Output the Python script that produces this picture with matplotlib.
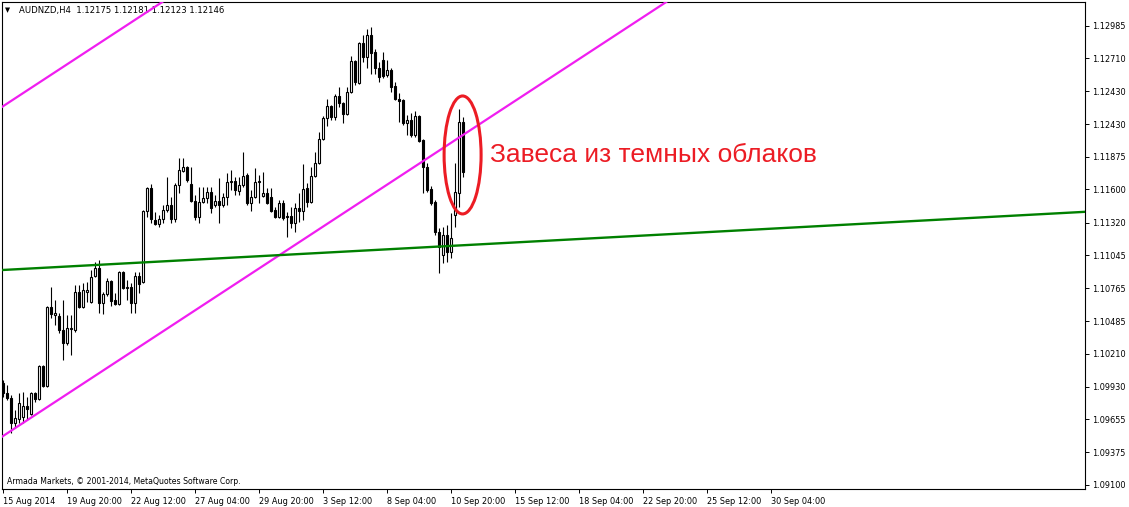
import matplotlib
matplotlib.use('Agg')
import matplotlib.pyplot as plt
from matplotlib.patches import Ellipse

# AUDNZD H4 candles, one per bar
opens = [1.09963, 1.09879, 1.09836, 1.09625, 1.09658, 1.09675, 1.09768, 1.09700, 1.09879, 1.09828,
         1.10106, 1.09937, 1.10606, 1.10538, 1.10529, 1.10411, 1.10302, 1.10420, 1.10411, 1.10733,
         1.10606, 1.10733, 1.10648, 1.10868, 1.10935, 1.10640, 1.10716, 1.10826, 1.10665, 1.10631,
         1.10902, 1.10767, 1.10775, 1.10640, 1.10868, 1.10817, 1.11418, 1.11612, 1.11342, 1.11308,
         1.11351, 1.11426, 1.11469, 1.11351, 1.11638, 1.11756, 1.11790, 1.11646, 1.11503, 1.11367,
         1.11494, 1.11528, 1.11579, 1.11469, 1.11503, 1.11469, 1.11537, 1.11663, 1.11672, 1.11587,
         1.11638, 1.11723, 1.11486, 1.11537, 1.11663, 1.11545, 1.11571, 1.11537, 1.11426, 1.11367,
         1.11486, 1.11376, 1.11376, 1.11317, 1.11443, 1.11418, 1.11612, 1.11494, 1.11714, 1.11824,
         1.12027, 1.12205, 1.12306, 1.12213, 1.12391, 1.12332, 1.12239, 1.12425, 1.12687, 1.12501,
         1.12839, 1.12720, 1.12907, 1.12763, 1.12628, 1.12695, 1.12568, 1.12611, 1.12475, 1.12365,
         1.12357, 1.12162, 1.12188, 1.12061, 1.12221, 1.12019, 1.11790, 1.11604, 1.11494, 1.11240,
         1.11046, 1.11215, 1.11071, 1.11384, 1.11571, 1.12171]
highs = [1.09988, 1.09946, 1.09862, 1.09734, 1.09879, 1.09887, 1.09845, 1.09887, 1.09887, 1.10115,
         1.10115, 1.10614, 1.10775, 1.10665, 1.10555, 1.10665, 1.10538, 1.10538, 1.10792, 1.10792,
         1.10809, 1.10817, 1.10919, 1.10986, 1.11003, 1.10733, 1.10851, 1.10834, 1.10725, 1.10910,
         1.10910, 1.10834, 1.10809, 1.10902, 1.10902, 1.11426, 1.11621, 1.11646, 1.11409, 1.11384,
         1.11469, 1.11706, 1.11537, 1.11655, 1.11866, 1.11866, 1.11799, 1.11790, 1.11554, 1.11621,
         1.11621, 1.11621, 1.11621, 1.11554, 1.11697, 1.11571, 1.11740, 1.11765, 1.11706, 1.11706,
         1.11917, 1.11740, 1.11596, 1.11782, 1.11723, 1.11748, 1.11612, 1.11612, 1.11452, 1.11511,
         1.11511, 1.11409, 1.11452, 1.11486, 1.11571, 1.11816, 1.11655, 1.11790, 1.11917, 1.12086,
         1.12221, 1.12365, 1.12315, 1.12408, 1.12467, 1.12340, 1.12467, 1.12729, 1.12695, 1.12848,
         1.12907, 1.12958, 1.12975, 1.12788, 1.12678, 1.12763, 1.12695, 1.12628, 1.12509, 1.12416,
         1.12365, 1.12230, 1.12247, 1.12264, 1.12230, 1.12027, 1.11824, 1.11630, 1.11511, 1.11274,
         1.11283, 1.11300, 1.11401, 1.11824, 1.12281, 1.12213]
lows = [1.09845, 1.09819, 1.09540, 1.09582, 1.09625, 1.09625, 1.09650, 1.09692, 1.09802, 1.09819,
        1.09929, 1.09929, 1.10512, 1.10454, 1.10386, 1.10157, 1.10285, 1.10200, 1.10394, 1.10597,
        1.10597, 1.10648, 1.10640, 1.10860, 1.10555, 1.10546, 1.10700, 1.10614, 1.10623, 1.10623,
        1.10758, 1.10665, 1.10555, 1.10555, 1.10725, 1.10809, 1.11367, 1.11317, 1.11300, 1.11283,
        1.11317, 1.11409, 1.11317, 1.11325, 1.11571, 1.11748, 1.11663, 1.11494, 1.11342, 1.11317,
        1.11486, 1.11486, 1.11401, 1.11452, 1.11317, 1.11452, 1.11469, 1.11596, 1.11554, 1.11554,
        1.11621, 1.11469, 1.11418, 1.11528, 1.11486, 1.11537, 1.11477, 1.11409, 1.11359, 1.11359,
        1.11342, 1.11198, 1.11274, 1.11240, 1.11325, 1.11342, 1.11452, 1.11486, 1.11706, 1.11816,
        1.12019, 1.12137, 1.12188, 1.12188, 1.12298, 1.12162, 1.12230, 1.12416, 1.12484, 1.12492,
        1.12678, 1.12628, 1.12577, 1.12577, 1.12509, 1.12543, 1.12552, 1.12425, 1.12357, 1.12171,
        1.12145, 1.12061, 1.12044, 1.12044, 1.12002, 1.11571, 1.11579, 1.11469, 1.11215, 1.10893,
        1.10978, 1.10986, 1.11020, 1.11283, 1.11452, 1.11706]
closes = [1.09879, 1.09836, 1.09625, 1.09666, 1.09794, 1.09768, 1.09743, 1.09879, 1.09828, 1.10106,
          1.09937, 1.10606, 1.10546, 1.10555, 1.10411, 1.10302, 1.10428, 1.10428, 1.10733, 1.10606,
          1.10750, 1.10750, 1.10860, 1.10935, 1.10640, 1.10716, 1.10826, 1.10657, 1.10631, 1.10902,
          1.10767, 1.10775, 1.10640, 1.10868, 1.10800, 1.11418, 1.11612, 1.11351, 1.11308, 1.11351,
          1.11426, 1.11469, 1.11351, 1.11638, 1.11765, 1.11790, 1.11680, 1.11503, 1.11367, 1.11494,
          1.11528, 1.11579, 1.11443, 1.11503, 1.11469, 1.11537, 1.11663, 1.11672, 1.11596, 1.11638,
          1.11714, 1.11486, 1.11537, 1.11663, 1.11672, 1.11571, 1.11486, 1.11418, 1.11367, 1.11486,
          1.11359, 1.11367, 1.11317, 1.11443, 1.11418, 1.11604, 1.11494, 1.11714, 1.11824, 1.12027,
          1.12205, 1.12306, 1.12213, 1.12391, 1.12332, 1.12239, 1.12425, 1.12687, 1.12509, 1.12839,
          1.12720, 1.12907, 1.12755, 1.12628, 1.12552, 1.12560, 1.12611, 1.12467, 1.12365, 1.12348,
          1.12162, 1.12188, 1.12061, 1.12221, 1.12010, 1.11790, 1.11596, 1.11486, 1.11240, 1.11113,
          1.11215, 1.11071, 1.11190, 1.11579, 1.12171, 1.11748]

# time axis: one label every 16 bars
date_labels = ['15 Aug 2014', '19 Aug 20:00', '22 Aug 12:00', '27 Aug 04:00', '29 Aug 20:00',
               '3 Sep 12:00', '8 Sep 04:00', '10 Sep 20:00', '15 Sep 12:00', '18 Sep 04:00',
               '22 Sep 20:00', '25 Sep 12:00', '30 Sep 04:00']
bars_per_label = 16

price_ticks = [1.12985, 1.12710, 1.12430, 1.12150, 1.11875, 1.11600, 1.11320, 1.11045,
               1.10765, 1.10485, 1.10210, 1.09930, 1.09655, 1.09375, 1.09100]
price_labels = ['1.12985', '1.12710', '1.12430', '1.12430', '1.11875', '1.11600', '1.11320', '1.11045',
                '1.10765', '1.10485', '1.10210', '1.09930', '1.09655', '1.09375', '1.09100']

# trend lines: two anchor points (bar, price) each
channel_low = [(0, 1.09514), (115, 1.12061)]
channel_high = [(0, 1.12304), (40, 1.13190)]
support = [(0, 1.10919), (270, 1.11410)]

# marked pattern
pattern_center = (114.9, 1.11892)
pattern_size = (9.25, 0.00998)
pattern_text = 'Завеса из темных облаков'
header = 'AUDNZD,H4  1.12175 1.12181 1.12123 1.12146'
copyright_text = 'Armada Markets, © 2001-2014, MetaQuotes Software Corp.'

W, H = 1129, 507
fig = plt.figure(figsize=(W / 100, H / 100), dpi=100)
ax = fig.add_axes([2 / W, 18 / H, 1083 / W, 487 / H])
ax.set_xlim(-0.25, 270.5)
ax.set_ylim(1.09066, 1.13186)

for i, (o, h, l, c) in enumerate(zip(opens, highs, lows, closes)):
    ax.vlines(i, l, h, color='black', linewidth=0.8, zorder=2)
    up = c >= o
    ax.bar(i, abs(c - o), bottom=min(o, c), width=0.66,
           facecolor='white' if up else 'black', edgecolor='black',
           linewidth=0.8, zorder=3)

ax.axline(channel_low[0], channel_low[1], color='#f01ef0', linewidth=1.6, zorder=4)
ax.axline(channel_high[0], channel_high[1], color='#f01ef0', linewidth=1.6, zorder=4)
ax.axline(support[0], support[1], color='#008000', linewidth=1.7, zorder=4)

ax.add_patch(Ellipse(pattern_center, pattern_size[0], pattern_size[1], fill=False,
                     edgecolor='#ec1c24', linewidth=2.2, zorder=5))
ax.text(121.75, pattern_center[1], pattern_text, color='#ec1c24', fontsize=19,
        family='Liberation Sans', ha='left', va='center', zorder=6)

ax.text(3 / 1083, 1 - 8 / 487, '\u25bc', transform=ax.transAxes, fontsize=4.8,
        ha='left', va='center')
ax.text(17 / 1083, 1 - 8 / 487, header, transform=ax.transAxes, fontsize=6.1,
        ha='left', va='center')
ax.text(5 / 1083, 8 / 487, copyright_text, transform=ax.transAxes, fontsize=5.6,
        ha='left', va='center')

ax.set_xticks(range(0, len(date_labels) * bars_per_label, bars_per_label))
ax.set_xticklabels(date_labels, ha='left', fontsize=5.9)
ax.yaxis.tick_right()
ax.set_yticks(price_ticks)
ax.set_yticklabels(price_labels, fontsize=5.9)
ax.tick_params(axis='both', direction='out', length=3, width=0.7, pad=2, colors='black')
ax.tick_params(axis='x', pad=3)
for sp in ax.spines.values():
    sp.set_linewidth(0.8)

fig.savefig('out.png', dpi=100, facecolor='white')
